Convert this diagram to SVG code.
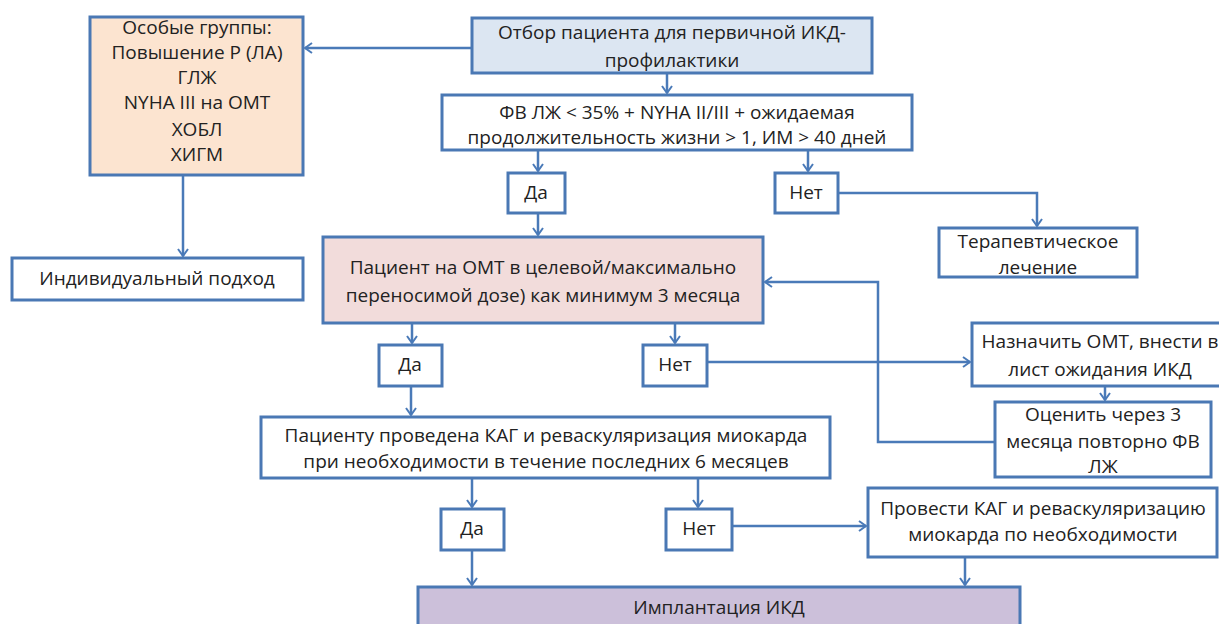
<svg xmlns="http://www.w3.org/2000/svg" width="1219" height="624" viewBox="0 0 1219 624">
<defs>
<marker id="arr" markerWidth="12" markerHeight="12" refX="9" refY="6" orient="auto" markerUnits="userSpaceOnUse">
<path d="M2,1 L9,6 L2,11" fill="none" stroke="#4a7ab8" stroke-width="2"/>
</marker>
</defs>
<style>
.box{stroke:#4a78b4;stroke-width:3;fill:#ffffff}
.blue{fill:#dce6f2}
.peach{fill:#fce4d0}
.pink{fill:#f2dcdb}
.lav{fill:#ccc0da}
.t{font-family:"Open Sans","Liberation Sans",Arial,sans-serif;font-size:19px;fill:#222222;text-anchor:middle}
.c{fill:none;stroke:#4a7ab8;stroke-width:2.5}
</style>
<rect width="1219" height="624" fill="#ffffff"/>

<g id="connectors">
<path class="c" d="M472,48 H305" marker-end="url(#arr)"/>
<path class="c" d="M183,175 V256" marker-end="url(#arr)"/>
<path class="c" d="M667,73 V93" marker-end="url(#arr)"/>
<path class="c" d="M538,150 V171" marker-end="url(#arr)"/>
<path class="c" d="M808,150 V171" marker-end="url(#arr)"/>
<path class="c" d="M538,213 V235" marker-end="url(#arr)"/>
<path class="c" d="M838,193 H1037 V226" marker-end="url(#arr)"/>
<path class="c" d="M412,323 V343" marker-end="url(#arr)"/>
<path class="c" d="M675,323 V343" marker-end="url(#arr)"/>
<path class="c" d="M707,362 H970" marker-end="url(#arr)"/>
<path class="c" d="M1105,386 V400" marker-end="url(#arr)"/>
<path class="c" d="M995,442 H878 V282 H765" marker-end="url(#arr)"/>
<path class="c" d="M411,386 V415" marker-end="url(#arr)"/>
<path class="c" d="M472,478 V507" marker-end="url(#arr)"/>
<path class="c" d="M698,478 V507" marker-end="url(#arr)"/>
<path class="c" d="M472,550 V585" marker-end="url(#arr)"/>
<path class="c" d="M732,526 H866" marker-end="url(#arr)"/>
<path class="c" d="M965,557 V585" marker-end="url(#arr)"/>
</g>

<g id="n-start">
<rect class="box blue" x="472" y="18" width="400" height="55"/>
<text class="t" x="672" y="39">Отбор пациента для первичной ИКД-</text>
<text class="t" x="672" y="67">профилактики</text>
</g>

<g id="n-special">
<rect class="box peach" x="90" y="17" width="213" height="158"/>
<text class="t" x="197" y="34">Особые группы:</text>
<text class="t" x="197" y="59">Повышение Р (ЛА)</text>
<text class="t" x="197" y="84">ГЛЖ</text>
<text class="t" x="197" y="109">NYHA III на ОМТ</text>
<text class="t" x="197" y="136">ХОБЛ</text>
<text class="t" x="197" y="161">ХИГМ</text>
</g>

<g id="n-individual">
<rect class="box" x="12" y="258" width="291" height="42"/>
<text class="t" x="157" y="285">Индивидуальный подход</text>
</g>

<g id="n-criteria">
<rect class="box" x="442" y="95" width="470" height="55"/>
<text class="t" x="677" y="119">ФВ ЛЖ &lt; 35% + NYHA II/III + ожидаемая</text>
<text class="t" x="677" y="144">продолжительность жизни &gt; 1, ИМ &gt; 40 дней</text>
</g>

<g id="n-yes1">
<rect class="box" x="508" y="173" width="57" height="40"/>
<text class="t" x="536" y="199">Да</text>
</g>

<g id="n-no1">
<rect class="box" x="775" y="173" width="63" height="40"/>
<text class="t" x="806" y="199">Нет</text>
</g>

<g id="n-therapy">
<rect class="box" x="939" y="228" width="198" height="49"/>
<text class="t" x="1038" y="248">Терапевтическое</text>
<text class="t" x="1038" y="274">лечение</text>
</g>

<g id="n-omt">
<rect class="box pink" x="323" y="237" width="440" height="86"/>
<text class="t" x="543" y="274">Пациент на ОМТ в целевой/максимально</text>
<text class="t" x="543" y="302">переносимой дозе) как минимум 3 месяца</text>
</g>

<g id="n-yes2">
<rect class="box" x="379" y="345" width="63" height="41"/>
<text class="t" x="410" y="371">Да</text>
</g>

<g id="n-no2">
<rect class="box" x="643" y="345" width="64" height="41"/>
<text class="t" x="675" y="371">Нет</text>
</g>

<g id="n-assign">
<rect class="box" x="972" y="323" width="256" height="63"/>
<text class="t" x="1100" y="348">Назначить ОМТ, внести в</text>
<text class="t" x="1100" y="376">лист ожидания ИКД</text>
</g>

<g id="n-evaluate">
<rect class="box" x="995" y="402" width="216" height="75"/>
<text class="t" x="1103" y="421">Оценить через 3</text>
<text class="t" x="1103" y="448">месяца повторно ФВ</text>
<text class="t" x="1103" y="473">ЛЖ</text>
</g>

<g id="n-kag">
<rect class="box" x="261" y="417" width="569" height="61"/>
<text class="t" x="546" y="442">Пациенту проведена КАГ и реваскуляризация миокарда</text>
<text class="t" x="546" y="468">при необходимости в течение последних 6 месяцев</text>
</g>

<g id="n-yes3">
<rect class="box" x="441" y="509" width="63" height="41"/>
<text class="t" x="472" y="535">Да</text>
</g>

<g id="n-no3">
<rect class="box" x="666" y="509" width="66" height="41"/>
<text class="t" x="699" y="535">Нет</text>
</g>

<g id="n-perform">
<rect class="box" x="868" y="488" width="349" height="69"/>
<text class="t" x="1043" y="515">Провести КАГ и реваскуляризацию</text>
<text class="t" x="1043" y="541">миокарда по необходимости</text>
</g>

<g id="n-implant">
<rect class="box lav" x="418" y="587" width="602" height="50"/>
<text class="t" x="719" y="614">Имплантация ИКД</text>
</g>
</svg>
